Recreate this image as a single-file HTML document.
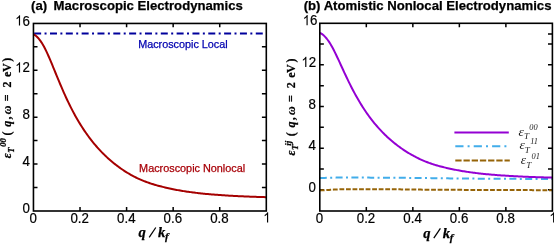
<!DOCTYPE html>
<html><head><meta charset="utf-8"><title>plot</title>
<style>html,body{margin:0;padding:0;background:#fff}svg{display:block;will-change:transform}</style></head>
<body>
<svg width="554" height="244" viewBox="0 0 554 244">
<style>
text{font-family:"Liberation Sans",sans-serif;fill:#000}
.tk{font-size:13.3px;stroke:#000;stroke-width:0.2px}
.ti{font-size:13.15px;font-weight:bold;stroke:#000;stroke-width:0.25px}
.se{font-family:"Liberation Serif",serif;font-weight:bold;font-style:italic;stroke:#000;stroke-width:0.25px}
.li{font-family:"Liberation Serif",serif;font-style:italic}
</style>
<rect width="554" height="244" fill="#fff"/>
<clipPath id="cl"><rect x="33.45" y="23.45" width="232.85" height="187.55"/></clipPath>
<clipPath id="cr"><rect x="319.8" y="23.3" width="232.60" height="187.70"/></clipPath>
<path d="M80.02,211.0 v-4.1 M80.02,23.45 v3.9 M126.59,211.0 v-4.1 M126.59,23.45 v3.9 M173.16,211.0 v-4.1 M173.16,23.45 v3.9 M219.73,211.0 v-4.1 M219.73,23.45 v3.9 M33.45,187.51 h4.05 M33.45,164.05 h4.05 M33.45,140.59 h4.05 M33.45,117.14 h4.05 M33.45,93.68 h4.05 M33.45,70.22 h4.05 M33.45,46.76 h4.05 M266.3,187.51 h-4.4 M266.3,164.05 h-4.4 M266.3,140.59 h-4.4 M266.3,117.14 h-4.4 M266.3,93.68 h-4.4 M266.3,70.22 h-4.4 M266.3,46.76 h-4.4" stroke="#000" stroke-width="1.5" fill="none"/>
<g clip-path="url(#cl)">
<path d="M34.15,33.4 H263.2" stroke="#00009c" stroke-width="2" stroke-dasharray="7 3.4 2 3.43" fill="none"/>
<path d="M33.45,34.48 L34.61,34.96 L35.78,35.73 L36.94,36.75 L38.11,37.98 L39.27,39.38 L40.44,40.90 L41.60,42.58 L42.76,44.47 L43.93,46.54 L45.09,48.77 L46.26,51.15 L47.42,53.65 L48.59,56.25 L49.75,58.93 L50.91,61.68 L52.08,64.48 L53.24,67.30 L54.41,70.15 L55.57,73.00 L56.74,75.84 L57.90,78.67 L59.06,81.47 L60.23,84.24 L61.39,86.98 L62.56,89.67 L63.72,92.32 L64.88,94.92 L66.05,97.47 L67.21,99.97 L68.38,102.41 L69.54,104.80 L70.71,107.13 L71.87,109.41 L73.03,111.63 L74.20,113.80 L75.36,115.92 L76.53,117.99 L77.69,120.00 L78.86,121.96 L80.02,123.88 L81.18,125.75 L82.35,127.57 L83.51,129.34 L84.68,131.08 L85.84,132.77 L87.01,134.42 L88.17,136.03 L89.33,137.60 L90.50,139.13 L91.66,140.62 L92.83,142.08 L93.99,143.51 L95.16,144.90 L96.32,146.25 L97.48,147.58 L98.65,148.87 L99.81,150.14 L100.98,151.37 L102.14,152.58 L103.31,153.76 L104.47,154.91 L105.63,156.03 L106.80,157.13 L107.96,158.20 L109.13,159.25 L110.29,160.27 L111.45,161.27 L112.62,162.24 L113.78,163.20 L114.95,164.13 L116.11,165.03 L117.28,165.92 L118.44,166.79 L119.60,167.63 L120.77,168.46 L121.93,169.26 L123.10,170.04 L124.26,170.81 L125.43,171.56 L126.59,172.29 L127.75,173.00 L128.92,173.69 L130.08,174.36 L131.25,175.02 L132.41,175.66 L133.58,176.29 L134.74,176.90 L135.90,177.49 L137.07,178.07 L138.23,178.62 L139.40,179.15 L140.56,179.66 L141.73,180.15 L142.89,180.63 L144.05,181.09 L145.22,181.53 L146.38,181.97 L147.55,182.39 L148.71,182.80 L149.88,183.20 L151.04,183.59 L152.20,183.97 L153.37,184.33 L154.53,184.68 L155.70,185.02 L156.86,185.35 L158.02,185.67 L159.19,185.98 L160.35,186.28 L161.52,186.58 L162.68,186.86 L163.85,187.14 L165.01,187.42 L166.17,187.69 L167.34,187.96 L168.50,188.23 L169.67,188.49 L170.83,188.74 L172.00,188.99 L173.16,189.23 L174.32,189.47 L175.49,189.69 L176.65,189.91 L177.82,190.13 L178.98,190.34 L180.15,190.54 L181.31,190.74 L182.47,190.93 L183.64,191.12 L184.80,191.30 L185.97,191.47 L187.13,191.65 L188.30,191.81 L189.46,191.98 L190.62,192.13 L191.79,192.29 L192.95,192.44 L194.12,192.59 L195.28,192.74 L196.45,192.88 L197.61,193.01 L198.77,193.15 L199.94,193.28 L201.10,193.41 L202.27,193.53 L203.43,193.65 L204.59,193.77 L205.76,193.88 L206.92,193.99 L208.09,194.10 L209.25,194.20 L210.42,194.31 L211.58,194.40 L212.74,194.50 L213.91,194.60 L215.07,194.69 L216.24,194.78 L217.40,194.87 L218.57,194.95 L219.73,195.04 L220.89,195.12 L222.06,195.20 L223.22,195.28 L224.39,195.35 L225.55,195.43 L226.72,195.50 L227.88,195.57 L229.04,195.64 L230.21,195.71 L231.37,195.78 L232.54,195.84 L233.70,195.91 L234.87,195.97 L236.03,196.03 L237.19,196.09 L238.36,196.15 L239.52,196.20 L240.69,196.26 L241.85,196.31 L243.02,196.36 L244.18,196.41 L245.34,196.46 L246.51,196.51 L247.67,196.56 L248.84,196.60 L250.00,196.65 L251.16,196.69 L252.33,196.74 L253.49,196.78 L254.66,196.82 L255.82,196.86 L256.99,196.90 L258.15,196.94 L259.31,196.97 L260.48,197.01 L261.64,197.05 L262.81,197.08 L263.97,197.11 L265.14,197.15 L266.30,197.18" stroke="#a50000" stroke-width="2" fill="none" stroke-linejoin="round"/>
</g>
<rect x="33.45" y="23.45" width="232.85" height="187.55" fill="none" stroke="#000" stroke-width="1.6"/>
<g transform="translate(29.45,222.50) scale(1,1.07)"><text x="0.00" y="0" class="tk">0</text></g>
<g transform="translate(70.48,222.50) scale(1,1.07)"><text x="0.00" y="0" class="tk">0.2</text></g>
<g transform="translate(117.05,222.50) scale(1,1.07)"><text x="0.00" y="0" class="tk">0.4</text></g>
<g transform="translate(163.62,222.50) scale(1,1.07)"><text x="0.00" y="0" class="tk">0.6</text></g>
<g transform="translate(210.19,222.50) scale(1,1.07)"><text x="0.00" y="0" class="tk">0.8</text></g>
<g transform="translate(263.20,222.50) scale(1,1.07)"><path transform="translate(0.00,0) scale(13.3,-13.3)" d="M0.373,0 L0.285,0 L0.285,0.565 Q0.215,0.50 0.109,0.445 L0.109,0.53 Q0.255,0.605 0.318,0.716 L0.373,0.716 Z" fill="#000"/></g>
<g transform="translate(22.51,213.17) scale(1,1.07)"><text x="0.00" y="0" class="tk">0</text></g>
<g transform="translate(22.51,166.25) scale(1,1.07)"><text x="0.00" y="0" class="tk">4</text></g>
<g transform="translate(22.51,119.34) scale(1,1.07)"><text x="0.00" y="0" class="tk">8</text></g>
<g transform="translate(15.11,72.42) scale(1,1.07)"><path transform="translate(0.00,0) scale(13.3,-13.3)" d="M0.373,0 L0.285,0 L0.285,0.565 Q0.215,0.50 0.109,0.445 L0.109,0.53 Q0.255,0.605 0.318,0.716 L0.373,0.716 Z" fill="#000"/><text x="7.39" y="0" class="tk">2</text></g>
<g transform="translate(15.11,25.50) scale(1,1.07)"><path transform="translate(0.00,0) scale(13.3,-13.3)" d="M0.373,0 L0.285,0 L0.285,0.565 Q0.215,0.50 0.109,0.445 L0.109,0.53 Q0.255,0.605 0.318,0.716 L0.373,0.716 Z" fill="#000"/><text x="7.39" y="0" class="tk">6</text></g>
<text y="10.4" class="ti"><tspan x="31">(a)</tspan><tspan x="53.6">Macroscopic Electrodynamics</tspan></text>
<text x="138.2" y="47.6" font-size="10.8" style="fill:#0000b0;stroke:#0000b0;stroke-width:0.25px">Macroscopic Local</text>
<text x="139.1" y="172.1" font-size="10.85" style="fill:#a80008;stroke:#a80008;stroke-width:0.25px">Macroscopic Nonlocal</text>
<text y="236.9" class="se" font-size="14.6"><tspan x="138.6">q</tspan><tspan x="158.1">k</tspan><tspan x="165.0" font-size="11" dy="3.2">f</tspan></text><path d="M149.2,237.3 l6.6,-9.8" stroke="#000" stroke-width="1.25" fill="none"/>
<g transform="translate(11.1,158.3) rotate(-90)"><text class="se"><tspan x="0.0" y="0" font-size="12">ε</tspan><tspan x="5.6" y="2.8" font-size="8.5">T</tspan><tspan x="11.5" y="-4.7" font-size="8.6">00</tspan><tspan x="22.8" y="0" font-size="12" font-style="normal">(</tspan><tspan x="31.6" y="0" font-size="12">q</tspan><tspan x="39.4" y="0" font-size="12">,</tspan><tspan x="44.0" y="0" font-size="12">ω</tspan><tspan x="57.0" y="0" font-size="12" font-style="normal">=</tspan><tspan x="70.9" y="0" font-size="12" font-style="normal">2</tspan><tspan x="81.3" y="0" font-size="12" font-style="normal">e</tspan><tspan x="86.2" y="0" font-size="12" font-style="normal">V</tspan><tspan x="96.5" y="0" font-size="12" font-style="normal">)</tspan></text></g>
<path d="M366.32,211.0 v-4.1 M366.32,23.3 v3.9 M412.84,211.0 v-4.1 M412.84,23.3 v3.9 M459.36,211.0 v-4.1 M459.36,23.3 v3.9 M505.88,211.0 v-4.1 M505.88,23.3 v3.9 M319.8,189.86 h4.05 M319.8,169.01 h4.05 M319.8,148.17 h4.05 M319.8,127.32 h4.05 M319.8,106.48 h4.05 M319.8,85.63 h4.05 M319.8,64.79 h4.05 M319.8,43.94 h4.05 M552.4,189.86 h-4.4 M552.4,169.01 h-4.4 M552.4,148.17 h-4.4 M552.4,127.32 h-4.4 M552.4,106.48 h-4.4 M552.4,85.63 h-4.4 M552.4,64.79 h-4.4 M552.4,43.94 h-4.4 M552.4,34.04 h-4.4" stroke="#000" stroke-width="1.5" fill="none"/>
<g clip-path="url(#cr)">
<path d="M319.80,178.03 L322.13,177.96 L324.45,177.90 L326.78,177.83 L329.10,177.77 L331.43,177.71 L333.76,177.66 L336.08,177.62 L338.41,177.59 L340.73,177.56 L343.06,177.56 L345.39,177.56 L347.71,177.56 L350.04,177.56 L352.36,177.57 L354.69,177.57 L357.02,177.58 L359.34,177.59 L361.67,177.59 L363.99,177.60 L366.32,177.61 L368.65,177.62 L370.97,177.64 L373.30,177.65 L375.62,177.66 L377.95,177.67 L380.28,177.69 L382.60,177.70 L384.93,177.72 L387.25,177.73 L389.58,177.75 L391.91,177.77 L394.23,177.78 L396.56,177.80 L398.88,177.82 L401.21,177.83 L403.54,177.85 L405.86,177.87 L408.19,177.89 L410.51,177.90 L412.84,177.92 L415.17,177.94 L417.49,177.96 L419.82,177.99 L422.14,178.01 L424.47,178.04 L426.80,178.07 L429.12,178.10 L431.45,178.14 L433.77,178.17 L436.10,178.20 L438.43,178.24 L440.75,178.27 L443.08,178.30 L445.40,178.33 L447.73,178.37 L450.06,178.40 L452.38,178.42 L454.71,178.45 L457.03,178.47 L459.36,178.50 L461.69,178.52 L464.01,178.53 L466.34,178.55 L468.66,178.57 L470.99,178.59 L473.32,178.61 L475.64,178.62 L477.97,178.64 L480.29,178.66 L482.62,178.67 L484.95,178.69 L487.27,178.70 L489.60,178.72 L491.92,178.73 L494.25,178.74 L496.58,178.76 L498.90,178.77 L501.23,178.78 L503.55,178.80 L505.88,178.81 L508.21,178.82 L510.53,178.83 L512.86,178.84 L515.18,178.86 L517.51,178.87 L519.84,178.88 L522.16,178.89 L524.49,178.90 L526.81,178.91 L529.14,178.92 L531.47,178.93 L533.79,178.94 L536.12,178.95 L538.44,178.96 L540.77,178.97 L543.10,178.98 L545.42,178.99 L547.75,179.00 L550.07,179.01 L552.40,179.02" stroke="#42adea" stroke-width="2" stroke-dasharray="7 3.4 2 3.4" fill="none"/>
<path d="M319.80,190.38 L320.96,190.33 L322.13,190.28 L323.29,190.23 L324.45,190.18 L325.62,190.12 L326.78,190.06 L327.94,190.00 L329.10,189.92 L330.27,189.84 L331.43,189.76 L332.59,189.68 L333.76,189.61 L334.92,189.54 L336.08,189.49 L337.25,189.45 L338.41,189.40 L339.57,189.36 L340.73,189.32 L341.90,189.28 L343.06,189.25 L344.22,189.22 L345.39,189.20 L346.55,189.18 L347.71,189.18 L348.88,189.18 L350.04,189.18 L351.20,189.18 L352.36,189.18 L353.53,189.18 L354.69,189.18 L355.85,189.18 L357.02,189.18 L358.18,189.19 L359.34,189.19 L360.50,189.19 L361.67,189.19 L362.83,189.19 L363.99,189.20 L365.16,189.20 L366.32,189.20 L367.48,189.21 L368.65,189.21 L369.81,189.21 L370.97,189.22 L372.13,189.22 L373.30,189.22 L374.46,189.23 L375.62,189.23 L376.79,189.23 L377.95,189.24 L379.11,189.24 L380.28,189.25 L381.44,189.25 L382.60,189.25 L383.76,189.26 L384.93,189.26 L386.09,189.27 L387.25,189.27 L388.42,189.28 L389.58,189.28 L390.74,189.29 L391.91,189.29 L393.07,189.30 L394.23,189.31 L395.39,189.32 L396.56,189.33 L397.72,189.34 L398.88,189.35 L400.05,189.37 L401.21,189.38 L402.37,189.39 L403.54,189.41 L404.70,189.42 L405.86,189.44 L407.02,189.45 L408.19,189.47 L409.35,189.48 L410.51,189.50 L411.68,189.51 L412.84,189.53 L414.00,189.54 L415.17,189.55 L416.33,189.57 L417.49,189.58 L418.65,189.59 L419.82,189.61 L420.98,189.62 L422.14,189.63 L423.31,189.64 L424.47,189.65 L425.63,189.66 L426.80,189.66 L427.96,189.67 L429.12,189.68 L430.28,189.69 L431.45,189.70 L432.61,189.70 L433.77,189.71 L434.94,189.72 L436.10,189.73 L437.26,189.73 L438.43,189.74 L439.59,189.75 L440.75,189.76 L441.91,189.76 L443.08,189.77 L444.24,189.78 L445.40,189.78 L446.57,189.79 L447.73,189.80 L448.89,189.80 L450.06,189.81 L451.22,189.82 L452.38,189.82 L453.55,189.83 L454.71,189.83 L455.87,189.84 L457.03,189.85 L458.20,189.85 L459.36,189.86 L460.52,189.86 L461.69,189.87 L462.85,189.87 L464.01,189.88 L465.17,189.89 L466.34,189.89 L467.50,189.90 L468.66,189.90 L469.83,189.91 L470.99,189.91 L472.15,189.92 L473.32,189.92 L474.48,189.93 L475.64,189.93 L476.81,189.94 L477.97,189.94 L479.13,189.95 L480.29,189.95 L481.46,189.96 L482.62,189.96 L483.78,189.96 L484.95,189.97 L486.11,189.97 L487.27,189.98 L488.43,189.98 L489.60,189.99 L490.76,189.99 L491.92,190.00 L493.09,190.00 L494.25,190.00 L495.41,190.01 L496.58,190.01 L497.74,190.02 L498.90,190.02 L500.06,190.02 L501.23,190.03 L502.39,190.03 L503.55,190.04 L504.72,190.04 L505.88,190.05 L507.04,190.05 L508.21,190.05 L509.37,190.06 L510.53,190.06 L511.69,190.06 L512.86,190.07 L514.02,190.07 L515.18,190.08 L516.35,190.08 L517.51,190.08 L518.67,190.09 L519.84,190.09 L521.00,190.09 L522.16,190.10 L523.33,190.10 L524.49,190.10 L525.65,190.11 L526.81,190.11 L527.98,190.11 L529.14,190.12 L530.30,190.12 L531.47,190.12 L532.63,190.13 L533.79,190.13 L534.95,190.13 L536.12,190.13 L537.28,190.14 L538.44,190.14 L539.61,190.14 L540.77,190.15 L541.93,190.15 L543.10,190.15 L544.26,190.15 L545.42,190.16 L546.59,190.16 L547.75,190.16 L548.91,190.16 L550.07,190.16 L551.24,190.17 L552.40,190.17" stroke="#966408" stroke-width="2" stroke-dasharray="4.8 1.75" fill="none"/>
<path d="M319.80,33.03 L320.96,33.46 L322.13,34.14 L323.29,35.05 L324.45,36.14 L325.62,37.39 L326.78,38.74 L327.94,40.24 L329.10,41.91 L330.27,43.75 L331.43,45.74 L332.59,47.85 L333.76,50.07 L334.92,52.38 L336.08,54.76 L337.25,57.20 L338.41,59.69 L339.57,62.20 L340.73,64.73 L341.90,67.26 L343.06,69.78 L344.22,72.30 L345.39,74.79 L346.55,77.25 L347.71,79.68 L348.88,82.08 L350.04,84.43 L351.20,86.74 L352.36,89.01 L353.53,91.22 L354.69,93.39 L355.85,95.52 L357.02,97.59 L358.18,99.61 L359.34,101.59 L360.50,103.52 L361.67,105.40 L362.83,107.23 L363.99,109.02 L365.16,110.77 L366.32,112.47 L367.48,114.13 L368.65,115.75 L369.81,117.33 L370.97,118.87 L372.13,120.37 L373.30,121.83 L374.46,123.26 L375.62,124.66 L376.79,126.02 L377.95,127.35 L379.11,128.64 L380.28,129.91 L381.44,131.15 L382.60,132.35 L383.76,133.53 L384.93,134.68 L386.09,135.80 L387.25,136.90 L388.42,137.97 L389.58,139.02 L390.74,140.04 L391.91,141.04 L393.07,142.02 L394.23,142.97 L395.39,143.90 L396.56,144.81 L397.72,145.69 L398.88,146.56 L400.05,147.41 L401.21,148.23 L402.37,149.04 L403.54,149.83 L404.70,150.60 L405.86,151.35 L407.02,152.08 L408.19,152.79 L409.35,153.49 L410.51,154.17 L411.68,154.83 L412.84,155.48 L414.00,156.11 L415.17,156.73 L416.33,157.33 L417.49,157.91 L418.65,158.48 L419.82,159.04 L420.98,159.58 L422.14,160.11 L423.31,160.62 L424.47,161.11 L425.63,161.58 L426.80,162.03 L427.96,162.47 L429.12,162.90 L430.28,163.30 L431.45,163.70 L432.61,164.09 L433.77,164.46 L434.94,164.83 L436.10,165.18 L437.26,165.53 L438.43,165.86 L439.59,166.19 L440.75,166.50 L441.91,166.80 L443.08,167.09 L444.24,167.38 L445.40,167.65 L446.57,167.92 L447.73,168.18 L448.89,168.44 L450.06,168.69 L451.22,168.93 L452.38,169.17 L453.55,169.41 L454.71,169.65 L455.87,169.88 L457.03,170.11 L458.20,170.33 L459.36,170.54 L460.52,170.75 L461.69,170.95 L462.85,171.15 L464.01,171.34 L465.17,171.52 L466.34,171.70 L467.50,171.88 L468.66,172.05 L469.83,172.21 L470.99,172.38 L472.15,172.53 L473.32,172.68 L474.48,172.83 L475.64,172.98 L476.81,173.12 L477.97,173.26 L479.13,173.39 L480.29,173.52 L481.46,173.65 L482.62,173.78 L483.78,173.90 L484.95,174.02 L486.11,174.14 L487.27,174.25 L488.43,174.36 L489.60,174.47 L490.76,174.57 L491.92,174.67 L493.09,174.77 L494.25,174.87 L495.41,174.96 L496.58,175.05 L497.74,175.14 L498.90,175.22 L500.06,175.31 L501.23,175.39 L502.39,175.47 L503.55,175.55 L504.72,175.62 L505.88,175.70 L507.04,175.77 L508.21,175.84 L509.37,175.91 L510.53,175.98 L511.69,176.05 L512.86,176.11 L514.02,176.18 L515.18,176.24 L516.35,176.30 L517.51,176.36 L518.67,176.41 L519.84,176.47 L521.00,176.53 L522.16,176.58 L523.33,176.63 L524.49,176.68 L525.65,176.73 L526.81,176.78 L527.98,176.83 L529.14,176.88 L530.30,176.92 L531.47,176.96 L532.63,177.01 L533.79,177.05 L534.95,177.09 L536.12,177.13 L537.28,177.17 L538.44,177.21 L539.61,177.25 L540.77,177.28 L541.93,177.32 L543.10,177.35 L544.26,177.39 L545.42,177.42 L546.59,177.45 L547.75,177.48 L548.91,177.51 L550.07,177.54 L551.24,177.57 L552.40,177.60" stroke="#9400d3" stroke-width="2" fill="none" stroke-linejoin="round"/>
</g>
<rect x="319.8" y="23.3" width="232.60" height="187.70" fill="none" stroke="#000" stroke-width="1.6"/>
<g transform="translate(315.80,222.50) scale(1,1.07)"><text x="0.00" y="0" class="tk">0</text></g>
<g transform="translate(356.78,222.50) scale(1,1.07)"><text x="0.00" y="0" class="tk">0.2</text></g>
<g transform="translate(403.30,222.50) scale(1,1.07)"><text x="0.00" y="0" class="tk">0.4</text></g>
<g transform="translate(449.82,222.50) scale(1,1.07)"><text x="0.00" y="0" class="tk">0.6</text></g>
<g transform="translate(496.34,222.50) scale(1,1.07)"><text x="0.00" y="0" class="tk">0.8</text></g>
<g transform="translate(549.30,222.50) scale(1,1.07)"><path transform="translate(0.00,0) scale(13.3,-13.3)" d="M0.373,0 L0.285,0 L0.285,0.565 Q0.215,0.50 0.109,0.445 L0.109,0.53 Q0.255,0.605 0.318,0.716 L0.373,0.716 Z" fill="#000"/></g>
<g transform="translate(308.61,192.06) scale(1,1.07)"><text x="0.00" y="0" class="tk">0</text></g>
<g transform="translate(308.41,150.37) scale(1,1.07)"><text x="0.00" y="0" class="tk">4</text></g>
<g transform="translate(308.61,108.68) scale(1,1.07)"><text x="0.00" y="0" class="tk">8</text></g>
<g transform="translate(301.41,66.99) scale(1,1.07)"><path transform="translate(0.00,0) scale(13.3,-13.3)" d="M0.373,0 L0.285,0 L0.285,0.565 Q0.215,0.50 0.109,0.445 L0.109,0.53 Q0.255,0.605 0.318,0.716 L0.373,0.716 Z" fill="#000"/><text x="7.39" y="0" class="tk">2</text></g>
<g transform="translate(302.71,25.30) scale(1,1.07)"><path transform="translate(0.00,0) scale(13.3,-13.3)" d="M0.373,0 L0.285,0 L0.285,0.565 Q0.215,0.50 0.109,0.445 L0.109,0.53 Q0.255,0.605 0.318,0.716 L0.373,0.716 Z" fill="#000"/><text x="7.39" y="0" class="tk">6</text></g>
<text x="303.7" y="10.4" class="ti">(b) Atomistic Nonlocal Electrodynamics</text>
<text y="237.8" class="se" font-size="14.6"><tspan x="423.2">q</tspan><tspan x="442.8">k</tspan><tspan x="449.7" font-size="11" dy="3.2">f</tspan></text><path d="M433.8,238.2 l6.6,-9.8" stroke="#000" stroke-width="1.25" fill="none"/>
<g transform="translate(295.3,155.5) rotate(-90)"><text class="se"><tspan x="0.0" y="0" font-size="12">ε</tspan><tspan x="5.6" y="2.8" font-size="8.5">T</tspan><tspan x="9.8" y="-4.5" font-size="9.0">ij</tspan><tspan x="19.2" y="0" font-size="12" font-style="normal">(</tspan><tspan x="28.0" y="0" font-size="12">q</tspan><tspan x="35.8" y="0" font-size="12">,</tspan><tspan x="40.4" y="0" font-size="12">ω</tspan><tspan x="53.4" y="0" font-size="12" font-style="normal">=</tspan><tspan x="67.30000000000001" y="0" font-size="12" font-style="normal">2</tspan><tspan x="77.7" y="0" font-size="12" font-style="normal">e</tspan><tspan x="82.60000000000001" y="0" font-size="12" font-style="normal">V</tspan><tspan x="92.9" y="0" font-size="12" font-style="normal">)</tspan></text></g>
<path d="M454.4,132.6 H508.8" stroke="#9400d3" stroke-width="2" fill="none"/>
<path d="M455.3,146.2 H509.5" stroke="#42adea" stroke-width="2" stroke-dasharray="8.2 4.1 2 4.1" fill="none"/>
<path d="M455.3,160.4 H509.8" stroke="#966408" stroke-width="2" stroke-dasharray="6.3 1.9" fill="none"/>
<text x="518.6" y="135.8" class="li" font-size="13.5" style="fill:#1c1c1c">ε<tspan font-size="9" dy="3.2">T</tspan><tspan font-size="8.4" dy="-8.8" dx="0.3">00</tspan></text>
<text x="519.5" y="149.3" class="li" font-size="13.5" style="fill:#1c1c1c">ε<tspan font-size="9" dy="3.2">T</tspan><tspan font-size="8.4" dy="-8.8" dx="0.3">11</tspan></text>
<text x="520.8" y="164.4" class="li" font-size="13.5" style="fill:#1c1c1c">ε<tspan font-size="9" dy="3.2">T</tspan><tspan font-size="8.4" dy="-8.8" dx="0.3">01</tspan></text>
</svg>
</body></html>
